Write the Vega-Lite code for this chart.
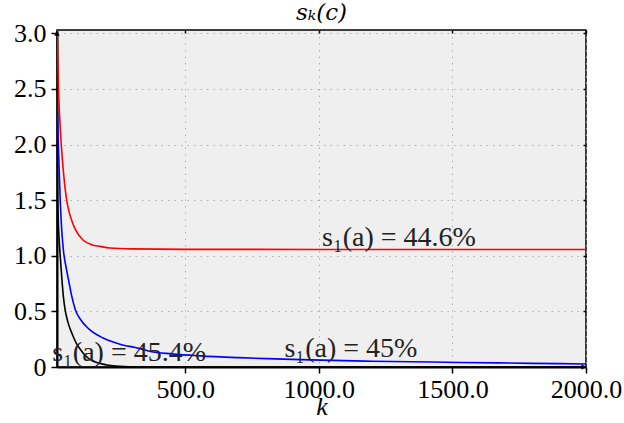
{
  "$schema": "https://vega.github.io/schema/vega-lite/v6.json",
  "width": 529,
  "height": 337,
  "autosize": {"type": "none"},
  "padding": {"left": 57, "top": 30, "right": 38, "bottom": 56},
  "title": {"text": "sₖ(c)", "font": "DejaVu Serif", "fontStyle": "italic", "fontWeight": "normal", "fontSize": 23, "color": "#000", "offset": -5},
  "datasets": {
    "curves": [
      {"k": 20, "v": 3.6, "s": "black"}, {"k": 21, "v": 2.5, "s": "black"}, {"k": 22, "v": 1.6, "s": "black"}, {"k": 25, "v": 1.3, "s": "black"}, {"k": 28, "v": 1.15, "s": "black"}, {"k": 32, "v": 1.0, "s": "black"}, {"k": 38, "v": 0.8, "s": "black"}, {"k": 44, "v": 0.63, "s": "black"}, {"k": 50, "v": 0.52, "s": "black"}, {"k": 60, "v": 0.41, "s": "black"}, {"k": 68, "v": 0.35, "s": "black"}, {"k": 78, "v": 0.29, "s": "black"}, {"k": 92, "v": 0.215, "s": "black"}, {"k": 107, "v": 0.16, "s": "black"}, {"k": 125, "v": 0.105, "s": "black"}, {"k": 144, "v": 0.067, "s": "black"}, {"k": 175, "v": 0.035, "s": "black"}, {"k": 207, "v": 0.018, "s": "black"}, {"k": 240, "v": 0.008, "s": "black"}, {"k": 270, "v": 0.003, "s": "black"}, {"k": 320, "v": 0.001, "s": "black"}, {"k": 500, "v": 0, "s": "black"}, {"k": 2000, "v": 0, "s": "black"},
      {"k": 20, "v": 2.46, "s": "blue"}, {"k": 25, "v": 2.0, "s": "blue"}, {"k": 32, "v": 1.5, "s": "blue"}, {"k": 38, "v": 1.22, "s": "blue"}, {"k": 44, "v": 1.05, "s": "blue"}, {"k": 57, "v": 0.86, "s": "blue"}, {"k": 65, "v": 0.76, "s": "blue"}, {"k": 75, "v": 0.64, "s": "blue"}, {"k": 88, "v": 0.52, "s": "blue"}, {"k": 110, "v": 0.42, "s": "blue"}, {"k": 140, "v": 0.34, "s": "blue"}, {"k": 193, "v": 0.26, "s": "blue"}, {"k": 250, "v": 0.21, "s": "blue"}, {"k": 331, "v": 0.165, "s": "blue"}, {"k": 369, "v": 0.14, "s": "blue"}, {"k": 450, "v": 0.118, "s": "blue"}, {"k": 556, "v": 0.1, "s": "blue"}, {"k": 700, "v": 0.084, "s": "blue"}, {"k": 807, "v": 0.075, "s": "blue"}, {"k": 931, "v": 0.066, "s": "blue"}, {"k": 1200, "v": 0.052, "s": "blue"}, {"k": 1530, "v": 0.041, "s": "blue"}, {"k": 1800, "v": 0.033, "s": "blue"}, {"k": 2000, "v": 0.027, "s": "blue"},
      {"k": 20, "v": 3.08, "s": "red"}, {"k": 23, "v": 2.78, "s": "red"}, {"k": 25.5, "v": 2.5, "s": "red"}, {"k": 30, "v": 2.25, "s": "red"}, {"k": 36, "v": 2.0, "s": "red"}, {"k": 45, "v": 1.73, "s": "red"}, {"k": 57, "v": 1.49, "s": "red"}, {"k": 66, "v": 1.39, "s": "red"}, {"k": 76, "v": 1.31, "s": "red"}, {"k": 90, "v": 1.23, "s": "red"}, {"k": 118, "v": 1.14, "s": "red"}, {"k": 150, "v": 1.1, "s": "red"}, {"k": 180, "v": 1.085, "s": "red"}, {"k": 219, "v": 1.07, "s": "red"}, {"k": 300, "v": 1.062, "s": "red"}, {"k": 500, "v": 1.058, "s": "red"}, {"k": 1000, "v": 1.057, "s": "red"}, {"k": 2000, "v": 1.057, "s": "red"}
    ],
    "labels": [
      {"k": 290, "v": 0.054, "t": "s₁(a) = 45.4%"},
      {"k": 1120, "v": 0.09, "t": "s₁(a) = 45%"},
      {"k": 1300, "v": 1.088, "t": "s₁(a) = 44.6%"}
    ],
    "arrows": [
      {"k": 20, "v": 3.0, "shape": "triangle-up"},
      {"k": 1992, "v": 0, "shape": "triangle-right"}
    ]
  },
  "layer": [
    {
      "data": {"name": "curves"},
      "mark": {"type": "line", "strokeWidth": 1.6, "clip": true, "interpolate": "monotone"},
      "encoding": {
        "x": {"field": "k", "type": "quantitative",
          "scale": {"domain": [20, 2000], "nice": false, "zero": false},
          "axis": {"values": [500, 1000, 1500, 2000], "format": ".1f", "labelFlush": false, "labelOverlap": false,
            "grid": true, "gridDash": [1.5, 5], "gridColor": "#b0b0b0", "gridWidth": 1,
            "domainColor": "#000", "domainWidth": 2, "tickColor": "#000", "tickSize": 6, "tickWidth": 1.5,
            "labelFont": "Liberation Serif", "labelFontSize": 26, "labelColor": "#000", "labelPadding": 3,
            "title": "k", "titleFont": "Liberation Serif", "titleFontStyle": "italic", "titleFontWeight": "normal", "titleFontSize": 26, "titleColor": "#000", "titlePadding": -9}},
        "y": {"field": "v", "type": "quantitative",
          "scale": {"domain": [0, 3.03], "nice": false, "zero": false},
          "axis": {"values": [0, 0.5, 1, 1.5, 2, 2.5, 3], "labelExpr": "datum.value == 0 ? '0' : format(datum.value, '.1f')", "labelOverlap": false, "labelFlush": false,
            "grid": true, "gridDash": [1.5, 5], "gridColor": "#b0b0b0", "gridWidth": 1,
            "domainColor": "#000", "domainWidth": 2, "tickColor": "#000", "tickSize": 6, "tickWidth": 1.5,
            "labelFont": "Liberation Serif", "labelFontSize": 26, "labelColor": "#000", "labelPadding": 5,
            "title": null}},
        "color": {"field": "s", "type": "nominal", "scale": {"domain": ["black", "blue", "red"], "range": ["#000000", "#0000ff", "#ff0000"]}, "legend": null}
      }
    },
    {
      "data": {"name": "arrows"},
      "mark": {"type": "point", "filled": true, "color": "#000", "size": 30, "opacity": 1},
      "encoding": {
        "x": {"field": "k", "type": "quantitative",
          "axis": {"orient": "top", "values": [500, 1000, 1500, 2000], "labels": false, "domain": false, "grid": false, "tickSize": -3, "tickColor": "#000", "tickWidth": 1.5, "title": null}},
        "y": {"field": "v", "type": "quantitative",
          "axis": {"orient": "right", "values": [0.5, 1, 1.5, 2, 2.5, 3], "labels": false, "domain": false, "grid": false, "tickSize": -3, "tickColor": "#000", "tickWidth": 1.5, "title": null}},
        "shape": {"field": "shape", "type": "nominal", "scale": {"domain": ["triangle-up", "triangle-right"], "range": ["triangle-up", "triangle-right"]}, "legend": null}
      }
    },
    {
      "data": {"name": "labels"},
      "mark": {"type": "text", "font": "Liberation Serif, DejaVu Serif, serif", "fontSize": 28, "color": "#222", "align": "center", "baseline": "alphabetic"},
      "encoding": {
        "x": {"field": "k", "type": "quantitative", "axis": null},
        "y": {"field": "v", "type": "quantitative", "axis": null},
        "text": {"field": "t"}
      }
    }
  ],
  "resolve": {"axis": {"x": "independent", "y": "independent"}},
  "config": {
    "view": {"fill": "#efefef", "stroke": "#000", "strokeWidth": 1.5}
  }
}
